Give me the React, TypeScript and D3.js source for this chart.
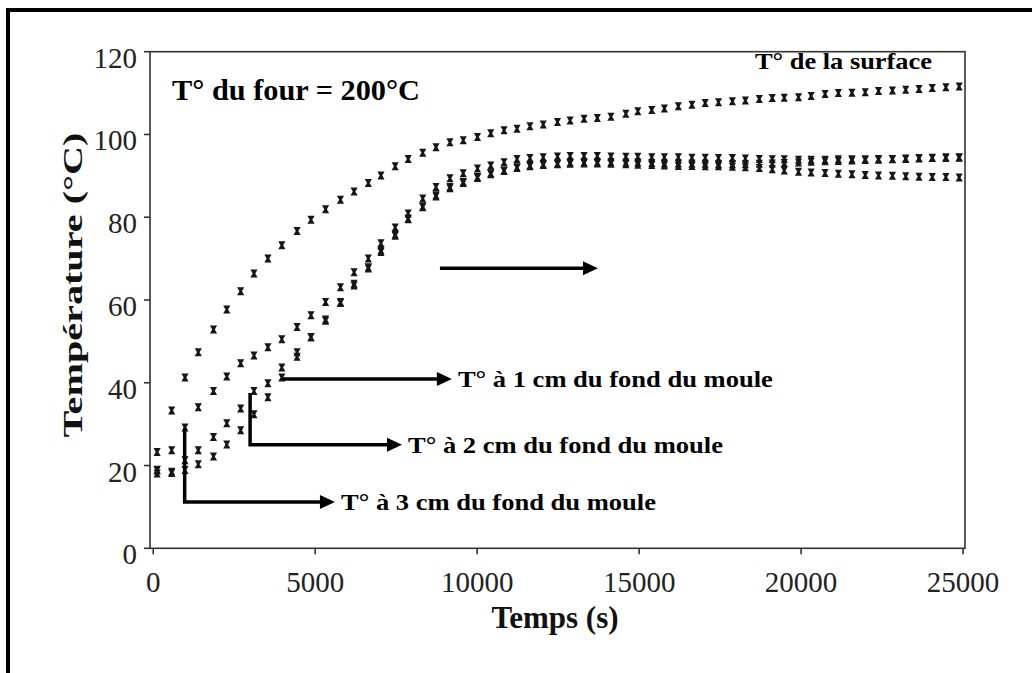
import React from "react";
import * as d3 from "d3";

// sample times (s)
const times = [120, 570, 980, 1390, 1860, 2270, 2700, 3110, 3540, 3970, 4440, 4870, 5320, 5780, 6200, 6640, 7030, 7470, 7870, 8320, 8730, 9160, 9570, 10010, 10420, 10830, 11230, 11630, 12040, 12480, 12870, 13300, 13710, 14130, 14590, 14960, 15390, 15780, 16210, 16630, 17040, 17450, 17880, 18280, 18710, 19110, 19480, 19920, 20310, 20740, 21150, 21570, 21980, 22390, 22820, 23230, 23640, 24050, 24470, 24880];

const surface = [23.3, 33.3, 41.3, 47.4, 52.9, 57.7, 62.1, 66.4, 70.0, 73.2, 76.7, 79.4, 81.9, 84.2, 86.2, 88.3, 90.1, 92.3, 94.1, 95.6, 96.9, 98.1, 98.6, 99.4, 100.3, 101.0, 101.4, 102.0, 102.4, 103.0, 103.4, 103.8, 104.0, 104.3, 105.0, 105.6, 105.9, 106.3, 106.8, 107.2, 107.6, 107.8, 108.0, 108.2, 108.6, 108.8, 108.9, 109.0, 109.3, 109.8, 110.0, 110.1, 110.2, 110.5, 110.6, 110.8, 111.0, 111.2, 111.4, 111.6];

const oneCm = [19.0, 23.7, 29.2, 34.1, 38.0, 41.5, 44.7, 46.6, 48.6, 50.5, 53.5, 56.3, 59.5, 63.1, 66.7, 70.0, 73.7, 77.5, 80.9, 84.5, 87.3, 89.4, 90.6, 91.8, 92.5, 93.3, 94.1, 94.3, 94.5, 94.7, 94.8, 94.8, 94.8, 94.7, 94.6, 94.6, 94.5, 94.5, 94.5, 94.4, 94.4, 94.3, 94.3, 94.2, 94.1, 94.0, 94.0, 93.9, 93.9, 93.9, 94.0, 94.0, 94.0, 94.1, 94.1, 94.2, 94.3, 94.4, 94.5, 94.5];

const twoCm = [18.8, 18.5, 21.3, 23.7, 26.9, 30.2, 33.8, 38.0, 39.9, 43.7, 47.4, 51.0, 55.3, 59.5, 63.9, 67.9, 72.0, 75.8, 79.7, 82.6, 85.3, 87.3, 88.5, 89.7, 90.6, 91.3, 92.1, 92.5, 92.8, 93.0, 93.2, 93.3, 93.3, 93.3, 93.2, 93.2, 93.1, 93.0, 93.0, 92.9, 92.9, 92.8, 92.8, 92.8, 92.9, 93.0, 93.1, 93.2, 93.4, 93.5, 93.6, 93.7, 93.8, 93.9, 94.0, 94.1, 94.2, 94.3, 94.3, 94.4];

const threeCm = [18.1, 18.2, 18.9, 20.3, 22.2, 25.1, 28.5, 32.4, 36.5, 41.3, 46.3, 51.0, 55.0, 59.3, 63.5, 67.6, 71.6, 75.5, 79.5, 82.4, 85.0, 87.0, 88.3, 89.5, 90.4, 91.2, 91.9, 92.3, 92.6, 92.8, 92.9, 93.0, 93.0, 92.9, 92.8, 92.7, 92.6, 92.5, 92.4, 92.4, 92.3, 92.3, 92.2, 92.1, 91.9, 91.6, 91.3, 91.0, 90.8, 90.7, 90.5, 90.4, 90.2, 90.1, 90.0, 89.9, 89.8, 89.7, 89.7, 89.6];

const seriesList = [surface, oneCm, twoCm, threeCm];

const xTicks = [0, 5000, 10000, 15000, 20000, 25000];
const yTicks = [0, 20, 40, 60, 80, 100, 120];

const ovenLabel = "T° du four = 200°C";
const surfaceLabel = "T° de la surface";
const cmLabels = ["T° à 1 cm du fond du moule", "T° à 2 cm du fond du moule", "T° à 3 cm du fond du moule"];
const xTitle = "Temps (s)";
const yTitle = "Température (°C)";

// annotation arrows in data units
const arrowSpecs = [
  { x0: 4000, yTop: null as number | null, y: 40.9, tip: 9220 },
  { x0: 2990, yTop: 37.5, y: 25.0, tip: 7680 },
  { x0: 970, yTop: 29.1, y: 11.2, tip: 5610 },
];
const midArrow = { x0: 8850, y: 67.7, tip: 13730 };

const FONT = "'Liberation Serif', 'Times New Roman', serif";

export default function App() {
  const x = d3.scaleLinear().domain([-100, 25060]).range([150, 965]);
  const y = d3.scaleLinear().domain([0, 120]).range([548.3, 51.7]);
  const [x0, x1] = x.range();
  const [yb, yt] = y.range();

  const marker = "M-3.6,-4 H3.6 L1.3,0 L3.6,4 H-3.6 L-1.3,0 Z";

  const arrowHead = (tx: number, ty: number) =>
    `M${tx},${ty} L${tx - 15},${ty - 7} L${tx - 15},${ty + 7} Z`;

  return (
    <svg
      width={1032}
      height={673}
      style={{ position: "absolute", left: 0, top: 0, background: "#fff" }}
      fontFamily={FONT}
    >
      {/* outer border (top + left) */}
      <path d="M8,673 L8,10 L1032,10" fill="none" stroke="#000" strokeWidth={4} />

      {/* plot frame */}
      <rect x={x0} y={yt} width={x1 - x0} height={yb - yt} fill="none" stroke="#333" strokeWidth={1.6} />

      {/* y ticks */}
      {yTicks.map((v) => (
        <g key={"y" + v}>
          <line x1={x0 - 6} x2={x0} y1={y(v)} y2={y(v)} stroke="#333" strokeWidth={1.6} />
          <text x={137} y={y(v) + 16} textAnchor="end" fontSize={29} fill="#222">
            {v}
          </text>
        </g>
      ))}
      {/* x ticks */}
      {xTicks.map((v) => (
        <g key={"x" + v}>
          <line x1={x(v)} x2={x(v)} y1={yb} y2={yb + 6} stroke="#333" strokeWidth={1.6} />
          <text x={x(v)} y={592} textAnchor="middle" fontSize={29} fill="#222">
            {v}
          </text>
        </g>
      ))}

      {/* axis titles */}
      <text x={555} y={628} textAnchor="middle" fontSize={31} fontWeight="bold" fill="#111">
        {xTitle}
      </text>
      <text
        transform="translate(82,285) rotate(-90)"
        textAnchor="middle"
        fontSize={28}
        fontWeight="bold"
        fill="#111"
        textLength={305}
        lengthAdjust="spacingAndGlyphs"
      >
        {yTitle}
      </text>

      {/* data markers */}
      {seriesList.map((s, si) => (
        <g key={"s" + si}>
          {s.map((v, i) => (
            <path key={i} d={marker} transform={`translate(${x(times[i])},${y(v)})`} fill="#161616" />
          ))}
        </g>
      ))}

      {/* annotations */}
      <text x={172} y={100} fontSize={30} fontWeight="bold" fill="#000" textLength={248} lengthAdjust="spacingAndGlyphs">
        {ovenLabel}
      </text>
      <text x={755} y={69} fontSize={24} fontWeight="bold" fill="#000" textLength={177} lengthAdjust="spacingAndGlyphs">
        {surfaceLabel}
      </text>

      {arrowSpecs.map((a, i) => {
        const cx = x(a.x0);
        const hy = y(a.y);
        const tx = x(a.tip);
        const d = a.yTop !== null ? `M${cx},${y(a.yTop)} L${cx},${hy} L${tx - 12},${hy}` : `M${cx},${hy} L${tx - 12},${hy}`;
        return (
          <g key={"a" + i}>
            <path d={d} fill="none" stroke="#000" strokeWidth={3.5} />
            <path d={arrowHead(tx, hy)} fill="#000" />
            <text x={tx + 6} y={hy + 8} fontSize={24} fontWeight="bold" fill="#000" textLength={315} lengthAdjust="spacingAndGlyphs">
              {cmLabels[i]}
            </text>
          </g>
        );
      })}

      <path d={`M${x(midArrow.x0)},${y(midArrow.y)} L${x(midArrow.tip) - 12},${y(midArrow.y)}`} stroke="#000" strokeWidth={3.5} />
      <path d={arrowHead(x(midArrow.tip), y(midArrow.y))} fill="#000" />
    </svg>
  );
}
